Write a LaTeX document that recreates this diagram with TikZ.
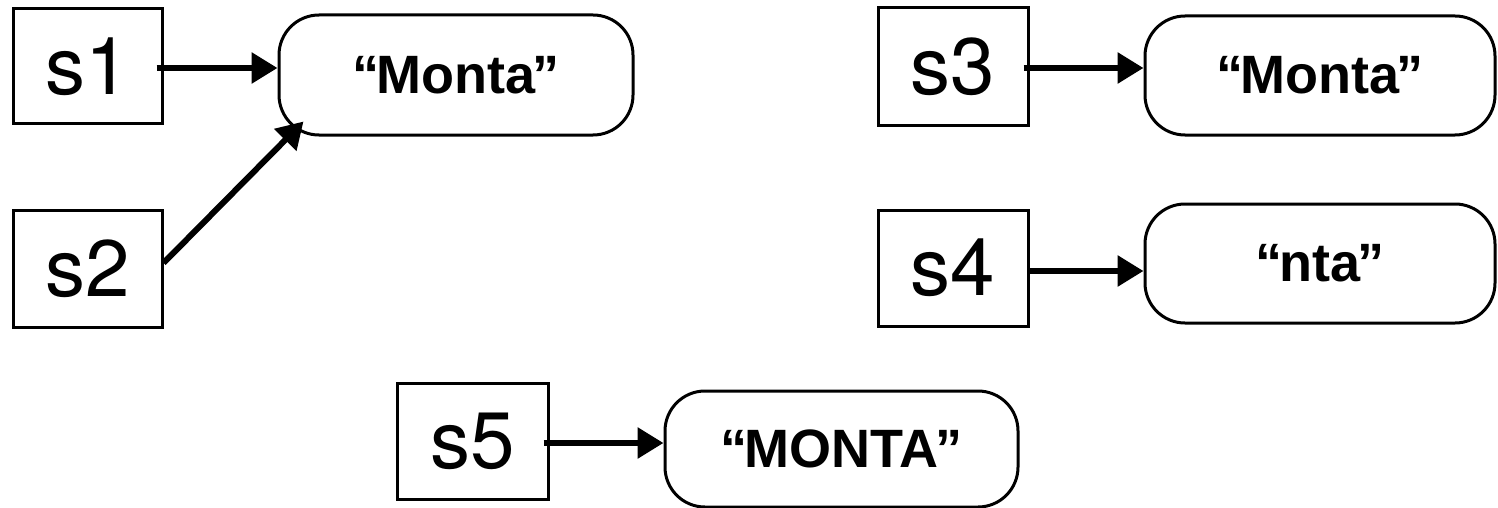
\documentclass[tikz,border=0pt]{standalone}
\usepackage{fontspec}
\setmainfont{TeX Gyre Heros}
\newfontfamily\valfont{Liberation Sans}
\usetikzlibrary{arrows.meta}
\newcommand{\myopenq}{“\kern-3pt}
\newcommand{\mycloseq}{\kern-3pt”}
\tikzset{
  sbox/.style={draw, line width=3pt, inner sep=0pt, font=\fontsize{80}{80}\selectfont},
  vbox/.style={draw, line width=3pt, inner sep=0pt, rounded corners=40pt, font=\valfont\fontsize{54}{54}\selectfont\bfseries},
  arr/.style={line width=6pt, -{Triangle[length=26pt,width=30pt]}}
}
\begin{document}
\begin{tikzpicture}[x=1pt,y=-1pt]
\useasboundingbox (0,0) rectangle (1498,508);
\node[sbox, minimum width=149pt, minimum height=115pt] (s1) at (87.5,66.5) {s1};
\node[sbox, minimum width=149pt, minimum height=117pt] (s2) at (87.5,268.5) {s2};
\node[vbox, minimum width=354pt, minimum height=120pt] (m1) at (456,75) {\myopenq Monta\mycloseq};
\node[sbox, minimum width=150pt, minimum height=118pt] (s3) at (953,67) {s3};
\node[vbox, minimum width=350pt, minimum height=119pt] (m2) at (1320,75.5) {\myopenq Monta\mycloseq};
\node[sbox, minimum width=150pt, minimum height=116pt] (s4) at (953,268) {s4};
\node[vbox, minimum width=350pt, minimum height=119pt] (m3) at (1320,263.5) {\myopenq nta\mycloseq};
\node[sbox, minimum width=151pt, minimum height=116pt] (s5) at (472.5,441) {s5};
\node[vbox, minimum width=353pt, minimum height=116pt] (m5) at (841.5,449) {\myopenq MONTA\mycloseq};

\draw[arr] ([xshift=-7pt,yshift=-1.5pt]s1.east) coordinate (a1) -- (a1 -| m1.west);
\draw[arr] ([yshift=5.5pt]s2.east) -- ([shift={(26pt,15pt)}]m1.south west);
\draw[arr] ([xshift=-6pt,yshift=-1pt]s3.east) coordinate (a3) -- (a3 -| m2.west);
\draw[arr] ([yshift=-3pt]s4.east) coordinate (a4) -- (a4 -| m3.west);
\draw[arr] ([xshift=-6pt,yshift=-2pt]s5.east) coordinate (a5) -- (a5 -| m5.west);
\end{tikzpicture}
\end{document}
